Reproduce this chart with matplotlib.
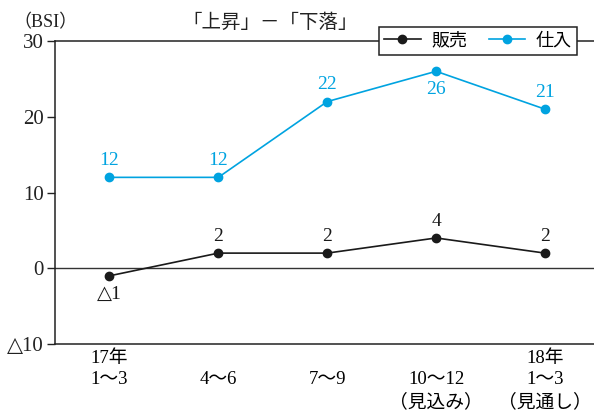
import matplotlib
matplotlib.use('Agg')
import matplotlib.pyplot as plt

plt.rcParams['font.family'] = ['Liberation Serif', 'DejaVu Sans', 'Noto Sans CJK JP']

# 四半期ごとの BSI（「上昇」－「下落」）
quarters = ['17年\n1〜3', '\n4〜6', '\n7〜9', '\n10〜12\n（見込み）', '18年\n1〜3\n（見通し）']
sales = [-1, 2, 2, 4, 2]
purchase = [12, 12, 22, 26, 21]
yticks = [-10, 0, 10, 20, 30]
ytick_labels = ['△10', '0', '10', '20', '30']

black = '#1a1a1a'
blue = '#00a3e0'


def fmt(v):
    return f'△{abs(v)}' if v < 0 else str(v)


def put_label(ax, xi, v, color, below=False):
    if below:
        ax.annotate(fmt(v), (xi, v), xytext=(0, -7), textcoords='offset points',
                    ha='center', va='top', fontsize=14, color=color)
    else:
        ax.annotate(fmt(v), (xi, v), xytext=(0, 6), textcoords='offset points',
                    ha='center', va='bottom', fontsize=14, color=color)


fig = plt.figure(figsize=(5.94, 4.12), dpi=100)
ax = fig.add_axes([0.0926, 0.165, 0.9074, 0.7355])

x = list(range(len(quarters)))
ax.plot(x, sales, color=black, marker='o', markersize=6, lw=1.2, label='販売')
ax.plot(x, purchase, color=blue, marker='o', markersize=6, lw=1.2, label='仕入')
ax.axhline(0, color='#333333', lw=1.0, zorder=0)

# 負の値と凡例に近い最大値は点の下に書く
for xi, v in zip(x, sales):
    put_label(ax, xi, v, black, below=v < 0)
for xi, v in zip(x, purchase):
    put_label(ax, xi, v, blue, below=v == max(purchase))

ax.set_xlim(-0.5, 4.45)
ax.set_ylim(-10, 30)
ax.set_yticks(yticks)
ax.set_yticklabels(ytick_labels, fontsize=15)
ax.set_xticks(x)
ax.set_xticklabels(quarters, fontsize=13.5, va='top', linespacing=1.35)
ax.tick_params(axis='x', length=0, pad=4)
ax.tick_params(axis='y', length=6, width=1, direction='out', pad=2, colors='#222222')

ax.spines['right'].set_visible(False)
for s in ['left', 'top', 'bottom']:
    ax.spines[s].set_linewidth(1.1)
    ax.spines[s].set_color('#222222')

leg = ax.legend(loc='center', bbox_to_anchor=(0.805, 0.9005),
                bbox_transform=fig.transFigure, ncol=2, fontsize=13,
                frameon=True, fancybox=False, edgecolor='#222222', framealpha=1,
                handlelength=2.0, columnspacing=1.2, handletextpad=0.6,
                borderpad=0.3, borderaxespad=0)
leg.get_frame().set_linewidth(1.1)
leg.set_zorder(5)

fig.text(0.022, 0.946, '（BSI）', fontsize=13, va='center', ha='left', color='#222222')
fig.text(0.455, 0.946, '「上昇」－「下落」', fontsize=14, va='center', ha='center', color='#222222')

fig.savefig('out.png', dpi=100)
